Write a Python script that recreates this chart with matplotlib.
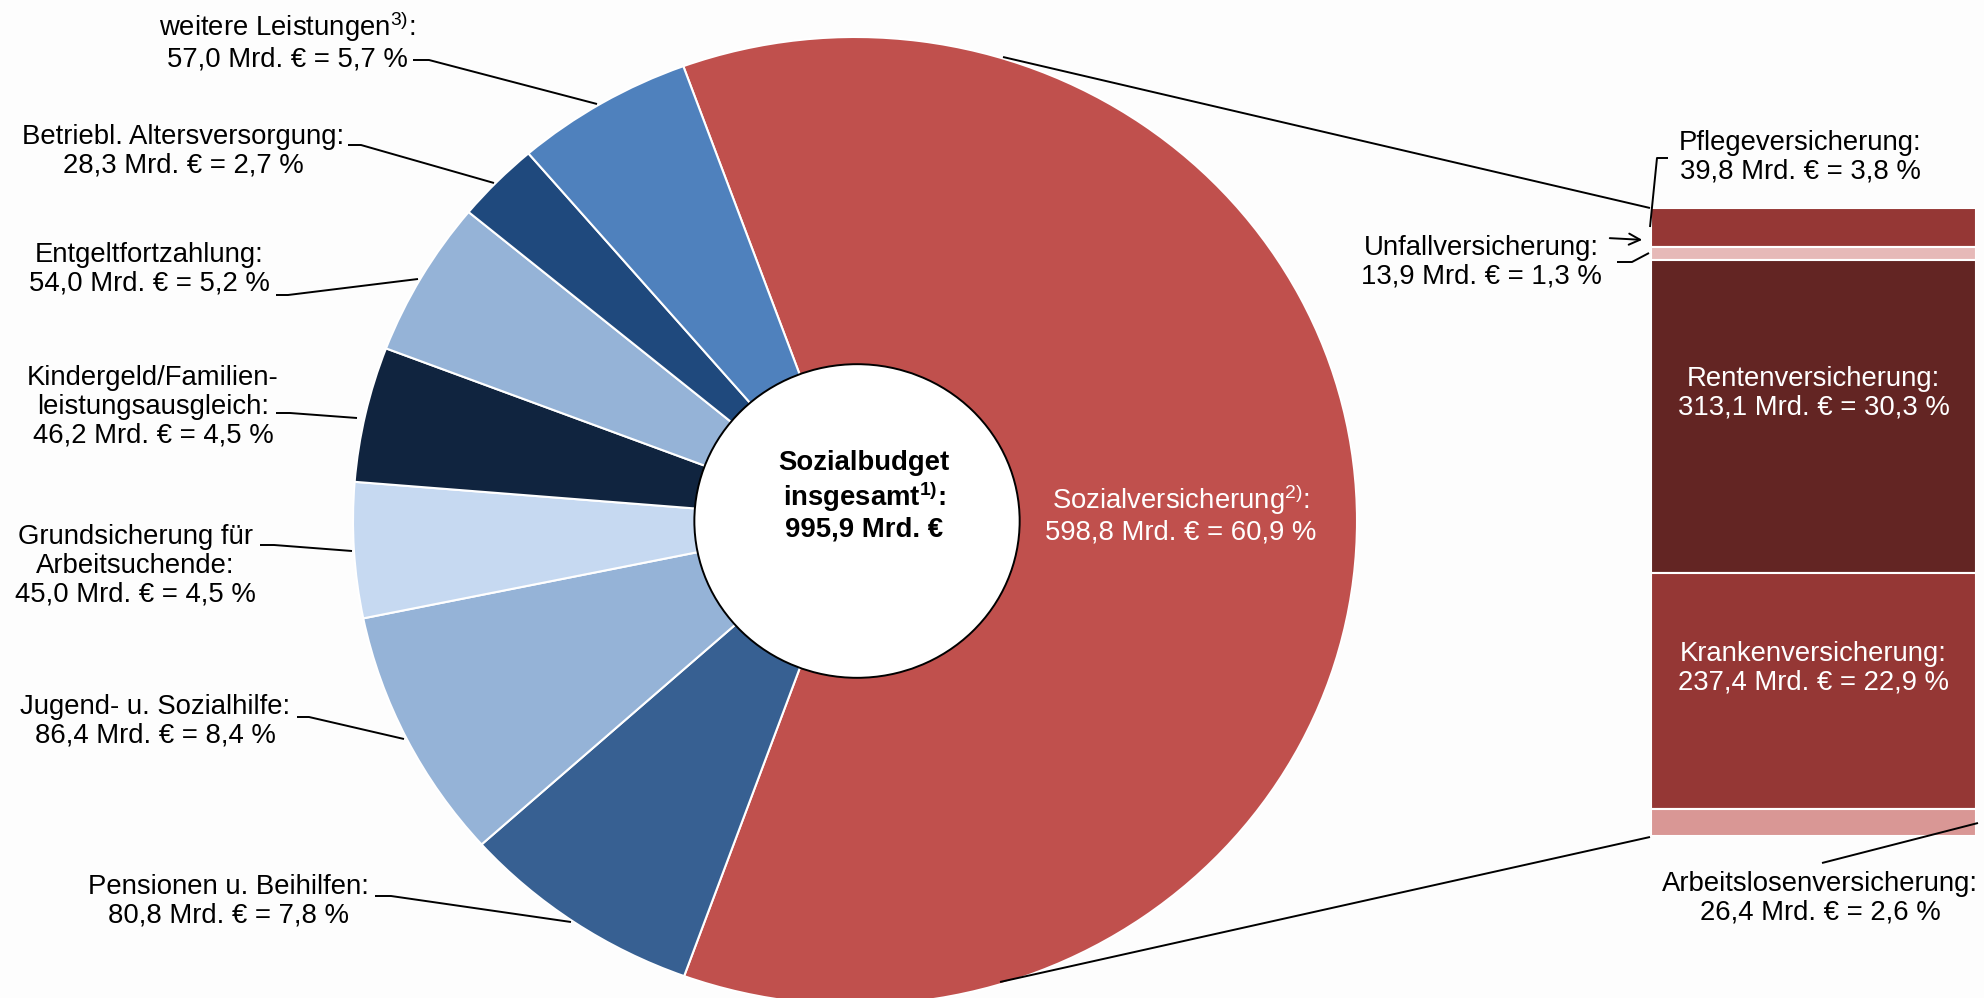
import numpy as np
import matplotlib
matplotlib.use("Agg")
import matplotlib.pyplot as plt
from matplotlib.patches import Circle

plt.rcParams['font.family'] = ['Liberation Sans', 'DejaVu Sans']
plt.rcParams['mathtext.fontset'] = 'custom'
plt.rcParams['mathtext.rm'] = 'Liberation Sans'
plt.rcParams['mathtext.it'] = 'Liberation Sans:italic'
plt.rcParams['mathtext.bf'] = 'Liberation Sans:bold'

# ---------------- data ----------------
pie_titles = [
    "Sozialversicherung$^{\\mathrm{2)}}$",
    "Pensionen u. Beihilfen",
    "Jugend- u. Sozialhilfe",
    "Grundsicherung für\nArbeitsuchende",
    "Kindergeld/Familien-\nleistungsausgleich",
    "Entgeltfortzahlung",
    "Betriebl. Altersversorgung",
    "weitere Leistungen$^{\\mathrm{3)}}$",
]
pie_mrd = [598.8, 80.8, 86.4, 45.0, 46.2, 54.0, 28.3, 57.0]
pie_pct = [60.9, 7.8, 8.4, 4.5, 4.5, 5.2, 2.7, 5.7]
pie_colors = ["#C0504D", "#376092", "#95B3D7", "#C6D9F1",
              "#10243F", "#95B3D7", "#1F497D", "#4F81BD"]

total_mrd = 995.9

bar_titles = ["Pflegeversicherung", "Unfallversicherung", "Rentenversicherung",
              "Krankenversicherung", "Arbeitslosenversicherung"]
bar_mrd = [39.8, 13.9, 313.1, 237.4, 26.4]
bar_pct = [3.8, 1.3, 30.3, 22.9, 2.6]
bar_colors = ["#953735", "#E6B9B8", "#632523", "#953735", "#D99795"]


def de(x):
    return f"{x:.1f}".replace(".", ",")


def label(title, mrd, pct):
    return f"{title}:\n{de(mrd)} Mrd. € = {de(pct)} %"


W, H = 1984, 998
BG = "#FDFDFD"
FS = 19.8
LS = 1.13

fig = plt.figure(figsize=(W / 100, H / 100), dpi=100, facecolor=BG)

# ---------------- pie ----------------
cx, cy, rx, ry = 855, 521, 502, 484
pax = fig.add_axes([(cx - rx) / W, (H - (cy + ry)) / H, 2 * rx / W, 2 * ry / H])
pax.pie(pie_pct, colors=pie_colors, startangle=110, counterclock=False, radius=1,
        wedgeprops=dict(edgecolor="white", linewidth=1.5))
pax.set_aspect("auto")
pax.set_xlim(-1, 1)
pax.set_ylim(-1, 1)
pax.axis("off")
pax.add_patch(Circle((0.004, 0), 0.324, facecolor="white", edgecolor="black",
                     linewidth=1.4, zorder=5))

# ---------------- stacked bar ----------------
bx0, bx1, by0, by1 = 1651, 1976, 207.5, 836
bax = fig.add_axes([bx0 / W, (H - by1) / H, (bx1 - bx0) / W, (by1 - by0) / H])
bottoms = np.concatenate([[0], np.cumsum(bar_pct)[:-1]])
bax.bar(0, bar_pct, bottom=bottoms, width=1, color=bar_colors,
        edgecolor="white", linewidth=1.5)
bax.set_xlim(-0.5, 0.5)
bax.set_ylim(sum(bar_pct), 0)
bax.axis("off")
for i in (2, 3):
    bax.annotate(label(bar_titles[i], bar_mrd[i], bar_pct[i]),
                 (0, bottoms[i] + bar_pct[i] / 2), xytext=(0, 16.5),
                 textcoords="offset points", ha="center", va="center",
                 color="white", fontsize=FS, linespacing=LS)

# ---------------- overlay (pixel coords) ----------------
ax = fig.add_axes([0, 0, 1, 1], zorder=10)
ax.set_xlim(0, W)
ax.set_ylim(H, 0)
ax.axis("off")
ax.patch.set_alpha(0)

# pie labels: (x, y) centre of text block
pos = {
    0: (1181, 514),
    1: (228, 901),
    2: (155, 721),
    3: (135, 566),
    4: (153, 407),
    5: (149, 269),
    6: (183, 151),
    7: (287, 41),
}
for i, (x, y) in pos.items():
    ax.text(x, y, label(pie_titles[i], pie_mrd[i], pie_pct[i]), ha="center",
            va="center", fontsize=FS, linespacing=LS,
            color="white" if i == 0 else "black")

# centre text
ax.text(864, 496, "Sozialbudget\ninsgesamt$^{\\mathbf{1)}}$:\n" + f"{de(total_mrd)} Mrd. €",
        ha="center", va="center", fontsize=FS, fontweight="bold", linespacing=LS)

# bar labels outside
ax.text(1800, 157, label(bar_titles[0], bar_mrd[0], bar_pct[0]), ha="center",
        va="center", fontsize=FS, linespacing=LS)
ax.text(1481, 262, label(bar_titles[1], bar_mrd[1], bar_pct[1]), ha="center",
        va="center", fontsize=FS, linespacing=LS)
ax.text(1820, 898, label(bar_titles[4], bar_mrd[4], bar_pct[4]), ha="center",
        va="center", fontsize=FS, linespacing=LS)

# leader lines
lk = dict(color="black", linewidth=1.4, solid_capstyle="butt")
leaders = [
    [(413, 60), (429, 60), (597, 104)],
    [(348, 145), (361, 145), (494, 183)],
    [(276, 295), (288, 295), (418, 279)],
    [(276, 413), (290, 413), (357, 418)],
    [(260, 545), (274, 545), (352, 551)],
    [(297, 717), (309, 717), (404, 739)],
    [(375, 896), (391, 896), (571, 922)],
    [(1668, 158), (1657, 158), (1650, 227)],
    [(1617, 262), (1632, 262), (1649, 253)],
    [(1822, 863), (1978, 823)],
    [(1003, 57), (1650, 208)],
    [(1000, 982), (1650, 837)],
]
for pts in leaders:
    xs, ys = zip(*pts)
    ax.plot(xs, ys, **lk)

ax.annotate("", xy=(1645, 240), xytext=(1607, 238),
            arrowprops=dict(arrowstyle="->,head_length=0.8,head_width=0.4",
                            color="black", linewidth=1.4))

fig.savefig("out.png", dpi=100, facecolor=BG)
